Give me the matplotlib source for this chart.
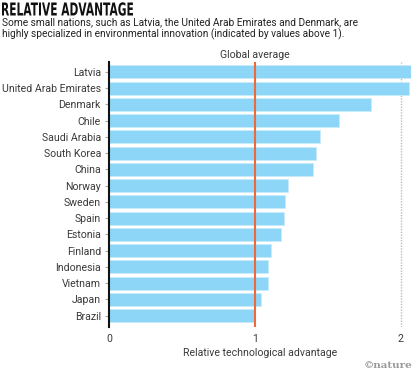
import matplotlib
matplotlib.use("Agg")
import matplotlib.pyplot as plt
from matplotlib.textpath import TextPath
from matplotlib.patches import PathPatch
from matplotlib.font_manager import FontProperties
from matplotlib.transforms import Affine2D

countries = ["Latvia", "United Arab Emirates", "Denmark", "Chile", "Saudi Arabia",
             "South Korea", "China", "Norway", "Sweden", "Spain", "Estonia",
             "Finland", "Indonesia", "Vietnam", "Japan", "Brazil"]
values = [2.07, 2.06, 1.80, 1.58, 1.45, 1.42, 1.40, 1.23, 1.21, 1.20, 1.18,
          1.11, 1.09, 1.09, 1.04, 1.00]
xticks = [0, 1, 2]
global_avg = 1.0

plt.rcParams['font.family'] = ['Roboto', 'DejaVu Sans']
W, H = 415, 370
fig = plt.figure(figsize=(W/100, H/100), dpi=100)
ax = fig.add_axes([109.3/W, 1 - 327/H, (411 - 109.3)/W, (327 - 62)/H])

ypos = list(range(len(countries)))
ax.barh(ypos, values, height=0.8, color='#8dd6f7', edgecolor='#c9ecfb', linewidth=0.6, zorder=2)
ax.set_ylim(len(countries) - 0.5 + 0.2, -0.5 - 0.1)
ax.set_xlim(0, 2.072)

ax.axvline(2, color='#bbbbbb', linestyle=(0, (1, 1)), linewidth=1, zorder=1)
ax.axvline(global_avg, color='#ee6a3d', linewidth=1.5, zorder=3)

for s in ['top', 'right', 'bottom']:
    ax.spines[s].set_visible(False)
ax.spines['left'].set_color('#111111')
ax.spines['left'].set_linewidth(1.5)
ax.spines['left'].set_zorder(4)

ax.set_yticks(ypos)
ax.set_yticklabels(countries, fontsize=7.6, color='#3a3a3a')
ax.tick_params(axis='y', length=3, color='#aaaaaa', width=0.8, pad=3)
ax.set_xticks(xticks)
ax.set_xticklabels([str(t) for t in xticks], fontsize=7.6, color='#3a3a3a')
ax.tick_params(axis='x', length=0, pad=5)
ax.set_xlabel("Relative technological advantage", fontsize=7.6, color='#3a3a3a', labelpad=3)

ax.text(global_avg, -0.75, "Global average", ha='center', va='bottom', fontsize=7.6,
        color='#3a3a3a', transform=ax.transData)

# Condensed bold title drawn as a horizontally squeezed text path
tp = TextPath((0, 0), "RELATIVE ADVANTAGE", size=1,
              prop=FontProperties(family='DejaVu Sans', weight='bold'))
ext = tp.get_extents()
cap_px = 13.0
sy = cap_px / 0.729
sx = 131.0 / ext.width
tr = Affine2D().translate(-ext.x0, 0).scale(sx / 100, sy / 100).translate(2 / 100, (H - 15.5) / 100) + fig.dpi_scale_trans
fig.patches.append(PathPatch(tp, transform=tr, facecolor='#111111', edgecolor='none', figure=fig))

fig.text(2/W, 1 - 17/H, "Some small nations, such as Latvia, the United Arab Emirates and Denmark, are\nhighly specialized in environmental innovation (indicated by values above 1).",
         ha='left', va='top', fontsize=7.25, color='#222222', linespacing=1.2)
fig.text(412/W, 1 - 365/H, "©nature", ha='right', va='center', fontsize=7.5, color='#999999',
         family='DejaVu Serif', fontweight='bold')

fig.savefig("out.png", dpi=100)
